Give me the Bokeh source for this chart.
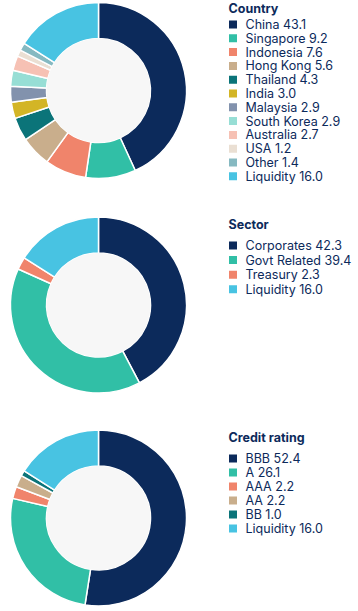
import numpy as np
from bokeh.plotting import figure
from bokeh.models import Range1d, ColumnDataSource
from bokeh.core.properties import value
from bokeh.embed import file_html
from bokeh.resources import INLINE

# ---- data ----
country_labels = ["China", "Singapore", "Indonesia", "Hong Kong", "Thailand", "India",
                  "Malaysia", "South Korea", "Australia", "USA", "Other", "Liquidity"]
country_values = [43.1, 9.2, 7.6, 5.6, 4.3, 3.0, 2.9, 2.9, 2.7, 1.2, 1.4, 16.0]
country_colors = ["#0c2a5b", "#31bfa6", "#f0846b", "#c9ae8c", "#0b7479", "#d3b526",
                  "#8292ad", "#97ded5", "#f6c1b4", "#eadfd3", "#86b9c1", "#48c3e2"]

sector_labels = ["Corporates", "Govt Related", "Treasury", "Liquidity"]
sector_values = [42.3, 39.4, 2.3, 16.0]
sector_colors = ["#0c2a5b", "#31bfa6", "#f0846b", "#48c3e2"]

rating_labels = ["BBB", "A", "AAA", "AA", "BB", "Liquidity"]
rating_values = [52.4, 26.1, 2.2, 2.2, 1.0, 16.0]
rating_colors = ["#0c2a5b", "#31bfa6", "#f0846b", "#c9ae8c", "#0b7479", "#48c3e2"]

titles = ["Country", "Sector", "Credit rating"]

W, H = 358, 611
p = figure(width=W, height=H, x_range=Range1d(0, W), y_range=Range1d(0, H),
           output_backend="svg", toolbar_location=None, min_border=0)
p.axis.visible = False
p.grid.visible = False
p.outline_line_color = None
p.background_fill_color = "white"


def py(page_y):
    return H - page_y


NAVY = "#0c2a5b"
FONT = "Inter"

groups = [
    (country_labels, country_values, country_colors, 90, 8, 24, 13.8),
    (sector_labels, sector_values, sector_colors, 304.5, 224, 245, 14.6),
    (rating_labels, rating_values, rating_colors, 517.5, 437, 458, 14.0),
]

for (labels, vals, cols, cy, ty, iy0, dy), title in zip(groups, titles):
    v = np.array(vals, dtype=float)
    frac = v / v.sum() * 2 * np.pi
    ends = np.cumsum(frac)
    starts = ends - frac
    src = ColumnDataSource(dict(
        x=[98] * len(v), y=[py(cy)] * len(v),
        start=np.pi / 2 - starts, end=np.pi / 2 - ends, color=cols))
    p.annular_wedge(x="x", y="y", inner_radius=52, outer_radius=88,
                    start_angle="start", end_angle="end", direction="clock",
                    fill_color="color", line_color="white", line_width=1.5, source=src)
    p.scatter([98], [py(cy)], size=104, marker="circle",
              fill_color="#f7f7f7", line_color=None)

    # legend
    p.text([228], [py(ty)], text=[title], text_font=value(FONT),
           text_font_style="bold", text_font_size="12.5px", text_color=NAVY,
           text_baseline="middle", text_align="left")
    ys = [py(iy0 + i * dy) for i in range(len(labels))]
    p.scatter([232.5] * len(labels), ys, marker="square", size=8,
              fill_color=cols, line_color=None)
    texts = [f"{l} {val:.1f}" for l, val in zip(labels, vals)]
    p.text([245] * len(labels), ys, text=texts, text_font=value(FONT),
           text_font_size="12.5px", text_color=NAVY,
           text_baseline="middle", text_align="left")

open("out.html", "w").write(file_html(p, INLINE))
